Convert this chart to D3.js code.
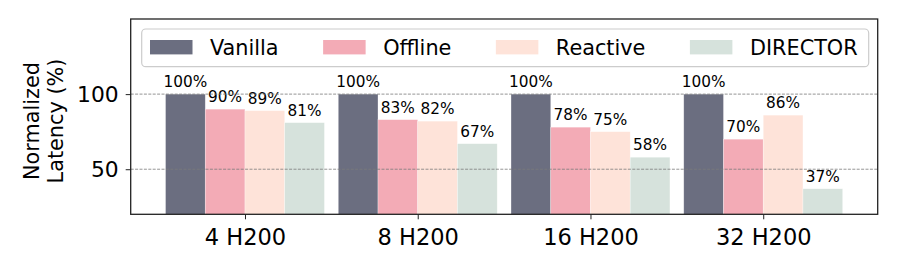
<!DOCTYPE html>
<html>
<head>
<meta charset="utf-8">
<script src="https://cdn.jsdelivr.net/npm/d3@7"></script>
<style>
  body { margin: 0; background: #fff; }
  svg { display: block; font-family: "DejaVu Sans", sans-serif; }
</style>
</head>
<body>
<div id="chart"></div>
<script>
const groups = ["4 H200", "8 H200", "16 H200", "32 H200"];
const seriesNames = ["Vanilla", "Offline", "Reactive", "DIRECTOR"];
const vanilla = [100, 100, 100, 100];
const offline = [90, 83, 78, 70];
const reactive = [89, 82, 75, 86];
const director = [81, 67, 58, 37];
const colors = ["#6b6e80", "#f3abb6", "#fee3d9", "#d6e2dc"];
const yTicks = [50, 100];

const width = 897, height = 269;
const plot = { left: 130.7, right: 877.7, top: 19, bottom: 214.3 };
const barW = 0.23;

const series = [vanilla, offline, reactive, director];

const svg = d3.select("#chart").append("svg")
  .attr("width", width)
  .attr("height", height);

const x = d3.scaleLinear().domain([-0.6616, 3.6627]).range([plot.left, plot.right]);
const y = d3.scaleLinear().domain([20, 150]).range([plot.bottom, plot.top]);

// bars
series.forEach((vals, si) => {
  const off = (si - 1.5) * barW;
  svg.append("g")
    .selectAll("rect")
    .data(vals)
    .enter()
    .append("rect")
    .attr("x", (d, i) => x(i + off - barW / 2))
    .attr("y", (d) => y(d))
    .attr("width", x(barW) - x(0))
    .attr("height", (d) => y(20) - y(d))
    .attr("fill", colors[si])
    .attr("stroke", "#ffffff")
    .attr("stroke-opacity", 0.5)
    .attr("stroke-width", 0.6);

  svg.append("g")
    .selectAll("text")
    .data(vals)
    .enter()
    .append("text")
    .attr("x", (d, i) => x(i + off))
    .attr("y", (d) => y(d) - 7)
    .attr("text-anchor", "middle")
    .style("font-size", "15.3px")
    .attr("fill", "#000")
    .text((d) => d + "%");
});

// grid on top of bars
svg.append("g")
  .selectAll("line")
  .data(yTicks)
  .enter()
  .append("line")
  .attr("x1", plot.left)
  .attr("x2", plot.right)
  .attr("y1", (d) => y(d))
  .attr("y2", (d) => y(d))
  .attr("stroke", "#7a7a7a")
  .attr("stroke-width", 0.8)
  .attr("stroke-dasharray", "3,1.4");

// frame
svg.append("rect")
  .attr("x", plot.left)
  .attr("y", plot.top)
  .attr("width", plot.right - plot.left)
  .attr("height", plot.bottom - plot.top)
  .attr("fill", "none")
  .attr("stroke", "#222")
  .attr("stroke-width", 1.3);

// y axis
const yAxis = svg.append("g")
  .attr("transform", `translate(${plot.left},0)`)
  .call(d3.axisLeft(y).tickValues(yTicks).tickSize(5).tickPadding(7));
yAxis.select(".domain").remove();
yAxis.selectAll("line").attr("stroke", "#222").attr("stroke-width", 1);
yAxis.selectAll("text")
  .style("font-size", "21.8px")
  .style("font-family", "DejaVu Sans, sans-serif")
  .attr("fill", "#000");

// x axis
const xAxis = svg.append("g")
  .attr("transform", `translate(0,${plot.bottom})`)
  .call(d3.axisBottom(x).tickValues(d3.range(groups.length)).tickFormat((d) => groups[d]).tickSize(5).tickPadding(9.5));
xAxis.select(".domain").remove();
xAxis.selectAll("line").attr("stroke", "#222").attr("stroke-width", 1);
xAxis.selectAll("text")
  .style("font-size", "22.5px")
  .style("font-family", "DejaVu Sans, sans-serif")
  .attr("fill", "#000");

// y label (two lines)
const labelY = 121;
[["Normalized", 38.5], ["Latency (%)", 62.5]].forEach(([t, bx]) => {
  svg.append("text")
    .attr("transform", `translate(${bx},${labelY}) rotate(-90)`)
    .attr("text-anchor", "middle")
    .style("font-size", "20.8px")
    .attr("fill", "#000")
    .text(t);
});

// legend
const legend = svg.append("g");
const legendBox = legend.append("rect")
  .attr("x", 141.7)
  .attr("y", 29)
  .attr("height", 37.7)
  .attr("rx", 4)
  .attr("fill", "#fff")
  .attr("fill-opacity", 0.8)
  .attr("stroke", "#cccccc")
  .attr("stroke-width", 1.2);

let lx = 150;
seriesNames.forEach((name, i) => {
  legend.append("rect")
    .attr("x", lx)
    .attr("y", 40)
    .attr("width", 42.5)
    .attr("height", 14.4)
    .attr("fill", colors[i]);
  const t = legend.append("text")
    .attr("x", lx + 60)
    .attr("y", 54.5)
    .style("font-size", "20.8px")
    .attr("fill", "#000")
    .text(name);
  const w = t.node().getComputedTextLength();
  if (i === seriesNames.length - 1) {
    legendBox.attr("width", lx + 60 + w + 11 - 141.7);
  }
  lx = lx + 60 + w + 44.5;
});
</script>
</body>
</html>
